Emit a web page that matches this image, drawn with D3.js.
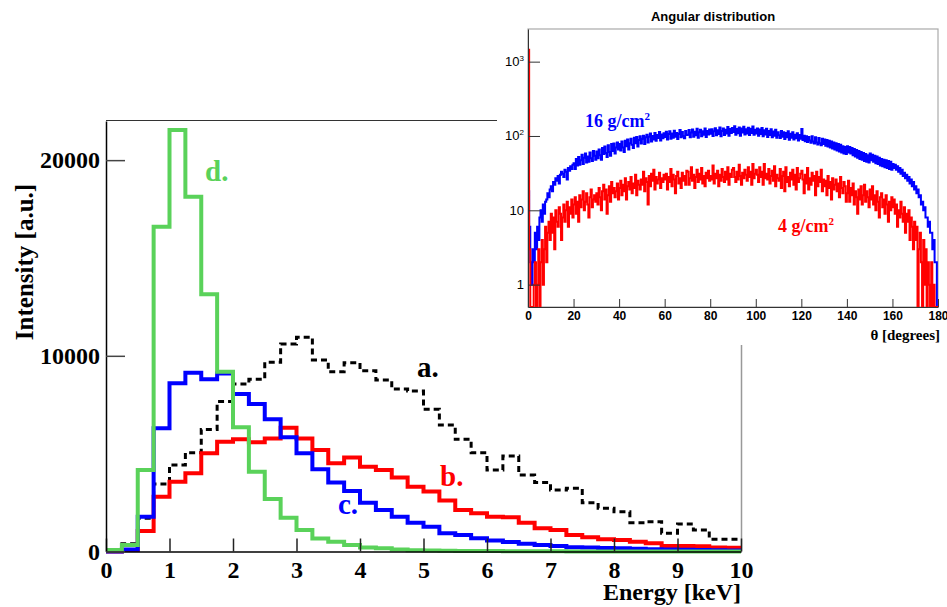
<!DOCTYPE html>
<html><head><meta charset="utf-8">
<script src="https://cdn.jsdelivr.net/npm/d3@7"></script>
<style>body{margin:0;background:#fff}svg{display:block}</style>
</head><body><svg id="c" width="947" height="607"></svg>
<script>
// ---------- Main chart data: energy spectra, 0.25 keV bins from 0 to 10 keV ----------
const energyBinWidth = 0.25;
const spectrumA = [100,400,1700,3450,4420,5050,6240,7660,8560,8800,9670,10600,10950,9790,9190,9650,9240,8760,8300,8200,7270,6460,5730,5050,4160,4880,3910,3520,3140,3230,2490,2210,2030,1470,1520,930,1400,1100,620,620];
const spectrumB = [0,80,1050,2800,3570,4000,5020,5610,5730,5580,5780,6330,5780,5190,4510,4810,4330,4160,3780,3310,3060,2600,2120,1950,1780,1750,1470,1190,1100,840,730,620,590,500,420,280,280,270,210,190];
const spectrumC = [0,100,1780,6300,8600,9140,8800,9100,8050,7540,6760,5840,5020,4200,3520,3090,2490,2120,1780,1470,1270,930,840,680,560,480,390,330,280,220,200,180,160,140,120,100,90,80,60,50];
const spectrumD = [80,330,4160,16600,21540,18130,13140,9190,6350,4080,2680,1730,1100,670,500,330,210,160,100,70,50,40,30,25,20,15,12,10,8,6,5,4,3,3,2,2,1,1,1,0];
const seriesLabels = ["a.","b.","c.","d."];
const energyTicks = [0,1,2,3,4,5,6,7,8,9,10];
const intensityTicks = [0,10000,20000];

// ---------- Inset data: angular distribution, 0.5 degree bins from 0 to 180 ----------
const angleBinWidth = 0.5;
const angular16 = [
18,6,2,1,3,2,5,3,6,4,8,10,7,12,9,13,14,17,15,19,
21,18,24,22,27,25,29,23,30,33,31,28,35,33,26,37,34,39,36,41,
43,36,49,40,52,41,47,56,42,51,58,44,53,45,60,50,46,63,54,48,
62,50,66,55,48,69,57,72,59,52,75,61,54,78,63,79,58,70,82,66,
78,64,84,70,61,86,73,90,66,80,92,76,69,95,80,97,72,88,99,79,
92,101,78,96,104,82,98,108,84,100,90,110,86,103,94,113,87,105,93,109,
97,114,90,106,116,92,108,95,118,98,110,91,106,120,96,113,99,93,117,103,
104,120,96,111,122,98,114,102,125,95,112,121,99,116,104,126,97,117,105,122,
107,123,100,116,127,102,119,106,130,99,117,126,103,121,108,132,101,124,110,128,
113,135,104,124,109,130,101,126,111,133,105,123,108,129,103,125,110,134,104,121,
108,126,101,122,106,128,99,119,105,125,97,117,103,123,96,115,101,121,95,112,
102,94,117,98,112,91,110,96,116,89,107,95,112,90,104,93,109,87,103,92,
124,88,101,85,99,83,97,87,81,99,84,79,96,82,77,94,80,75,92,78,
90,74,88,72,86,70,84,68,82,66,80,64,78,62,76,60,73,58,71,57,
73,60,71,58,69,55,67,53,65,51,63,49,61,48,59,46,57,45,55,44,
58,47,56,45,54,43,53,42,51,40,49,39,48,38,47,37,46,36,45,35,
42,37,41,35,39,33,37,31,35,29,32,27,30,25,28,23,26,21,24,19,
21,17,19,15,16,12,13,10,11,8,8,6,7,5,5,3,4,2,2,0];
const angular4 = [
1450,3,0,0,0,1,2,0,1,3,0,2,4,1,3,6,2,5,7,4,
9,5,8,3,10,7,6,11,9,4,8,12,7,10,13,6,11,9,14,8,
12,15,9,13,7,16,11,14,18,10,13,17,12,8,15,19,11,14,16,13,
17,12,20,15,10,18,22,14,19,9,16,21,13,24,17,20,15,18,23,14,
20,25,16,22,18,27,14,21,24,19,28,17,23,20,30,16,25,22,19,26,
22,33,18,27,24,12,29,21,31,25,35,19,28,23,26,32,20,27,24,30,
26,31,19,28,24,36,21,30,26,17,29,33,23,27,20,32,25,29,22,34,
33,22,27,38,25,30,20,28,35,24,31,26,37,23,29,21,32,27,34,25,
29,26,40,23,31,27,34,21,30,25,36,28,24,33,26,38,22,31,28,35,
37,28,24,33,26,41,29,22,32,27,35,30,25,38,28,33,22,42,27,31,
35,30,24,38,28,33,22,42,27,31,26,36,23,29,34,25,39,21,30,27,
25,36,20,29,33,18,38,24,28,21,32,26,35,22,30,19,37,24,27,31,
34,26,17,30,23,37,19,27,22,32,25,29,16,33,21,28,24,35,18,26,
21,25,16,29,20,24,14,27,19,22,26,18,23,15,28,20,17,24,21,13,
17,25,13,20,16,23,12,18,15,9,19,14,21,12,16,22,13,18,15,11,
19,14,21,12,16,10,18,13,8,15,17,11,14,9,16,12,7,13,10,15,
11,14,9,12,6,10,8,13,9,7,11,5,9,7,10,4,8,6,3,7,
4,6,0,3,5,2,0,4,1,3,0,2,1,0,2,0,1,0,0,0];
const angleTicks = [0,20,40,60,80,100,120,140,160,180];
const logTicks = [1,10,100,1000];
const insetLabels = ["16 g/cm","4 g/cm"];

// ---------- Drawing ----------
const svg = d3.select("#c");
const serif = "'Liberation Serif','Times New Roman',serif";
const sans = "'Liberation Sans',Arial,Helvetica,sans-serif";

const x = d3.scaleLinear().domain([0,10]).range([106,741]);
const y = d3.scaleLinear().domain([0,22000]).range([551.5,121]);

// frame (top + right, partially hidden by inset)
svg.append("line").attr("x1",106).attr("x2",497).attr("y1",120.5).attr("y2",120.5).attr("stroke","#333").attr("stroke-width",1.2);
svg.append("line").attr("x1",741.5).attr("x2",741.5).attr("y1",120.5).attr("y2",551.5).attr("stroke","#999").attr("stroke-width",1.5);

function stepPoints(vals, w){
  const pts = vals.map((v,i)=>[i*w, v]);
  pts.push([vals.length*w, vals[vals.length-1]]);
  return pts;
}
const mainLine = d3.line().x(d=>x(d[0])).y(d=>y(d[1])).curve(d3.curveStepAfter);

const mainSeries = [
  {vals: spectrumA, color:"#000", width:3, dash:"6,4"},
  {vals: spectrumB, color:"#ff0000", width:4, dash:null},
  {vals: spectrumC, color:"#0000ff", width:4, dash:null},
  {vals: spectrumD, color:"#5ad25a", width:4, dash:null}
];
mainSeries.forEach(s=>{
  svg.append("path").datum(stepPoints(s.vals, energyBinWidth))
    .attr("d", mainLine).attr("fill","none").attr("stroke",s.color)
    .attr("stroke-width",s.width).attr("stroke-dasharray",s.dash)
    .attr("stroke-linejoin","miter");
});

// x axis main
const gx = svg.append("g").attr("transform","translate(0,551.5)");
const minorE = d3.range(0,10.0001,0.2).filter(v=>Math.abs(v-Math.round(v))>1e-6);
gx.call(d3.axisBottom(x).tickValues(minorE).tickSizeInner(-7).tickSizeOuter(0).tickFormat(""));
gx.call(d3.axisBottom(x).tickValues(energyTicks).tickSizeInner(-13).tickSizeOuter(0).tickPadding(9).tickFormat(d3.format("d")));
gx.selectAll("path.domain").attr("stroke","#000").attr("stroke-width",1.5);
gx.selectAll("line").attr("stroke","#222").attr("stroke-width",1.5);
gx.selectAll("text").attr("font-family",serif).attr("font-weight","bold").attr("font-size",24).attr("fill","#000");

// y axis main
const gy = svg.append("g").attr("transform","translate(106,0)");
const minorI = d3.range(0,22001,2000).filter(v=>v%10000!==0);
gy.call(d3.axisLeft(y).tickValues(minorI).tickSizeInner(-10).tickSizeOuter(0).tickFormat(""));
gy.call(d3.axisLeft(y).tickValues(intensityTicks).tickSizeInner(-19).tickSizeOuter(0).tickPadding(6).tickFormat(d3.format("d")));
gy.selectAll("path.domain").attr("stroke","#000").attr("stroke-width",1.5);
gy.selectAll("line").attr("stroke","#444").attr("stroke-width",1.5);
gy.selectAll("text").attr("font-family",serif).attr("font-weight","bold").attr("font-size",24).attr("fill","#000");

// axis titles
svg.append("text").attr("x",741).attr("y",600).attr("text-anchor","end")
  .attr("font-family",serif).attr("font-weight","bold").attr("font-size",24).text("Energy [keV]");
svg.append("text").attr("transform","translate(33,262) rotate(-90)").attr("text-anchor","middle")
  .attr("font-family",serif).attr("font-weight","bold").attr("font-size",25).text("Intensity [a.u.]");

// series labels
const labelPos = [[417,377,"#000"],[440,486,"#ff0000"],[338,514,"#0000ff"],[205,181,"#5ad25a"]];
seriesLabels.forEach((t,i)=>{
  svg.append("text").attr("x",labelPos[i][0]).attr("y",labelPos[i][1]).attr("fill",labelPos[i][2])
    .attr("font-family",serif).attr("font-weight","bold").attr("font-size",29).text(t);
});

// ---------- Inset ----------
svg.append("rect").attr("x",497).attr("y",0).attr("width",450).attr("height",345).attr("fill","#fff");
const ix = d3.scaleLinear().domain([0,180]).range([528,938]);
const iy = d3.scaleLog().domain([0.5,2750]).range([307,29]);

svg.append("defs").append("clipPath").attr("id","insetClip").append("rect")
  .attr("x",528).attr("y",29).attr("width",410).attr("height",278);

svg.append("rect").attr("x",528).attr("y",29).attr("width",410).attr("height",278)
  .attr("fill","none").attr("stroke","#aaa").attr("stroke-width",1.2);

const insetLine = d3.line().x(d=>ix(d[0])).y(d=>iy(Math.max(d[1],0.5))).curve(d3.curveStepAfter);
[[angular16,"#0000ff"],[angular4,"#ff0000"]].forEach(([vals,col])=>{
  svg.append("path").datum(stepPoints(vals, angleBinWidth)).attr("clip-path","url(#insetClip)")
    .attr("d",insetLine).attr("fill","none").attr("stroke",col).attr("stroke-width",2);
});

// inset x axis
const igx = svg.append("g").attr("transform","translate(0,307)");
const minorA = d3.range(0,181,5).filter(v=>v%20!==0);
igx.call(d3.axisBottom(ix).tickValues(minorA).tickSizeInner(-5).tickSizeOuter(0).tickFormat(""));
igx.call(d3.axisBottom(ix).tickValues(angleTicks).tickSizeInner(-8).tickSizeOuter(0).tickPadding(4).tickFormat(d3.format("d")));
igx.selectAll("path.domain").attr("stroke","#333").attr("stroke-width",1);
igx.selectAll("line").attr("stroke","#333").attr("stroke-width",1);
igx.selectAll("text").attr("font-family",sans).attr("font-weight","bold").attr("font-size",12).attr("fill","#000");

// inset y axis (log)
const igy = svg.append("g").attr("transform","translate(528,0)");
const minorL = [];
[0.1,1,10,100,1000].forEach(dec=>[2,3,4,5,6,7,8,9].forEach(m=>{const v=m*dec; if(v>=0.5&&v<=2750) minorL.push(v);}));
igy.call(d3.axisLeft(iy).tickValues(minorL).tickSizeInner(-6).tickSizeOuter(0).tickFormat(""));
igy.call(d3.axisLeft(iy).tickValues(logTicks).tickSizeInner(-12).tickSizeOuter(0).tickFormat(""));
igy.selectAll("path.domain").attr("stroke","#333").attr("stroke-width",1);
igy.selectAll("line").attr("stroke","#333").attr("stroke-width",1);
logTicks.forEach(v=>{
  const t = svg.append("text").attr("x",524).attr("y",iy(v)+4.5).attr("text-anchor","end")
    .attr("font-family",sans).attr("font-size",13).attr("fill","#000");
  if (v===1) t.text("1");
  else if (v===10) t.text("10");
  else {
    t.append("tspan").text("10");
    t.append("tspan").attr("font-size",8).attr("dy",-5).text(String(Math.round(Math.log10(v))));
  }
});

// inset titles
svg.append("text").attr("x",713).attr("y",21).attr("text-anchor","middle")
  .attr("font-family",sans).attr("font-weight","bold").attr("font-size",13).text("Angular distribution");
svg.append("text").attr("x",940).attr("y",340).attr("text-anchor","end")
  .attr("font-family",serif).attr("font-weight","bold").attr("font-size",15).text("θ [degrees]");

const insetLabelPos = [[585,127,"#0000ff"],[778,232,"#ff0000"]];
insetLabels.forEach((t,i)=>{
  const tx = svg.append("text").attr("x",insetLabelPos[i][0]).attr("y",insetLabelPos[i][1])
    .attr("fill",insetLabelPos[i][2]).attr("font-family",serif).attr("font-weight","bold").attr("font-size",18);
  tx.append("tspan").text(t);
  tx.append("tspan").attr("font-size",11).attr("dy",-7).text("2");
});
</script></body></html>
